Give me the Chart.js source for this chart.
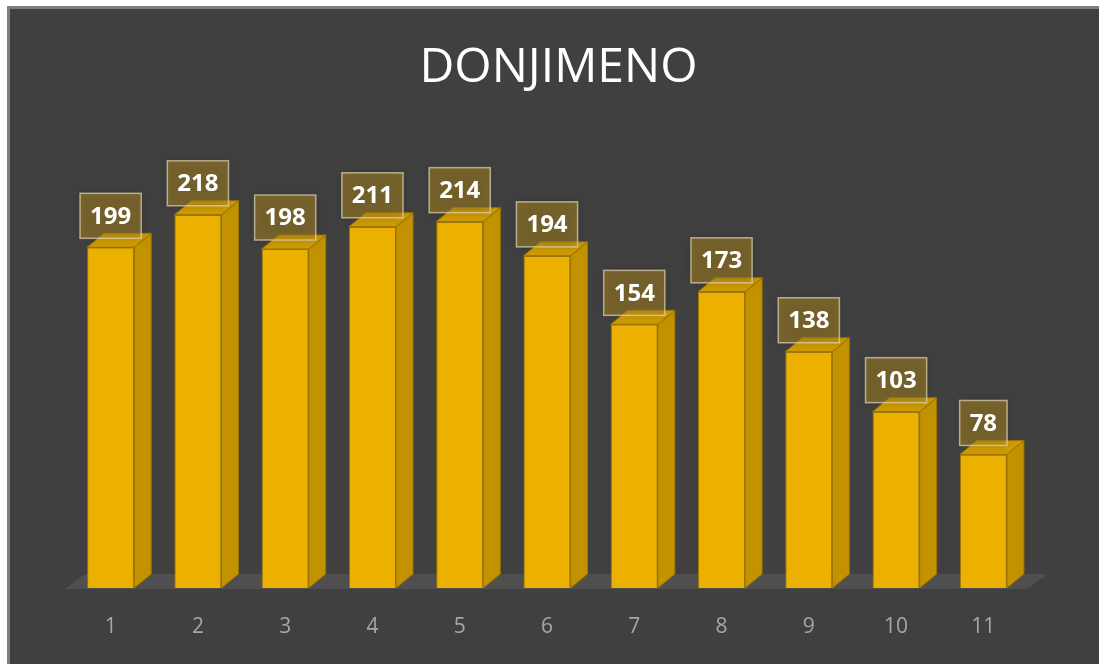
<!DOCTYPE html>
<html>
<head>
<meta charset="utf-8">
<script src="https://cdn.jsdelivr.net/npm/chart.js@4/dist/chart.umd.min.js"></script>
<style>
  html, body { margin: 0; padding: 0; background: #ffffff; overflow: hidden; }
  #frame {
    position: absolute; left: 7px; top: 6px; width: 1110px; height: 670px;
    box-sizing: border-box; background: #404040;
    border-left: 3px solid #7f7f7f; border-top: 3px solid #7f7f7f;
  }
  #wrap { position: relative; width: 1089px; height: 655px; }
</style>
</head>
<body>
<div id="frame"><div id="wrap"><canvas id="myChart"></canvas></div></div>
<script>
const chartTitle = "DONJIMENO";
const categories = ["1", "2", "3", "4", "5", "6", "7", "8", "9", "10", "11"];
const values = [199, 218, 198, 211, 214, 194, 154, 173, 138, 103, 78];

// depth of the fake 3d
const DX = 17, DY = 14;

const bar3d = {
  id: "bar3d",
  beforeDraw(chart) {
    const ctx = chart.ctx;
    ctx.save();
    ctx.font = '48px "Open Sans"';
    ctx.fillStyle = "#ffffff";
    ctx.textAlign = "center";
    ctx.textBaseline = "middle";
    ctx.fillText(chartTitle, chart.width / 2 + 4, 59);
    ctx.restore();
  },
  beforeDatasetsDraw(chart) {
    // floor
    const ctx = chart.ctx;
    const area = chart.chartArea;
    const base = chart.scales.y.getPixelForValue(0);
    ctx.save();
    ctx.fillStyle = "#4f4f4f";
    ctx.beginPath();
    ctx.moveTo(area.left - 2, base + 1);
    ctx.lineTo(area.right, base + 1);
    ctx.lineTo(area.right + 21, base - 14);
    ctx.lineTo(area.left + 18, base - 14);
    ctx.closePath();
    ctx.fill();
    ctx.restore();
  },
  afterDatasetsDraw(chart) {
    const ctx = chart.ctx;
    const meta = chart.getDatasetMeta(0);
    ctx.save();
    ctx.lineWidth = 1;
    ctx.strokeStyle = "#9c7500";
    meta.data.forEach((bar) => {
      const l = bar.x - bar.width / 2, r = bar.x + bar.width / 2;
      const t = bar.y, b = bar.base;
      // side
      ctx.fillStyle = "#c29200";
      ctx.beginPath();
      ctx.moveTo(r, t);
      ctx.lineTo(r + DX, t - DY);
      ctx.lineTo(r + DX, b - DY);
      ctx.lineTo(r, b);
      ctx.closePath();
      ctx.fill();
      ctx.stroke();
      // top
      ctx.fillStyle = "#cf9c00";
      ctx.beginPath();
      ctx.moveTo(l, t);
      ctx.lineTo(r, t);
      ctx.lineTo(r + DX, t - DY);
      ctx.lineTo(l + DX, t - DY);
      ctx.closePath();
      ctx.fill();
      ctx.stroke();
    });

    // data labels
    ctx.font = 'bold 24px "Open Sans"';
    ctx.textAlign = "center";
    ctx.textBaseline = "middle";
    meta.data.forEach((bar, i) => {
      const txt = String(values[i]);
      const w = ctx.measureText(txt).width + 20;
      const h = 45;
      const bx = bar.x - w / 2, by = bar.y - 9 - h;
      ctx.save();
      ctx.shadowColor = "rgba(0,0,0,0.35)";
      ctx.shadowBlur = 10;
      ctx.fillStyle = "rgba(175,138,30,0.5)";
      ctx.fillRect(bx, by, w, h);
      ctx.restore();
      ctx.strokeStyle = "rgba(225,212,180,0.7)";
      ctx.lineWidth = 1.5;
      ctx.strokeRect(bx, by, w, h);
      ctx.fillStyle = "#ffffff";
      ctx.fillText(txt, bar.x, by + h / 2 + 1);
    });
    ctx.restore();
  },
};

const ctx = document.getElementById("myChart").getContext("2d");
const myChart = new Chart(ctx, {
  type: "bar",
  data: {
    labels: categories,
    datasets: [
      {
        data: values,
        backgroundColor: "#ecb000",
        borderColor: "#9c7500",
        borderWidth: 1,
        categoryPercentage: 1,
        barPercentage: 0.54,
      },
    ],
  },
  options: {
    responsive: true,
    maintainAspectRatio: false,
    animation: false,
    layout: {
      padding: { left: 57, right: 72, top: 151, bottom: 0 },
    },
    scales: {
      x: {
        grid: { display: false, drawTicks: false },
        border: { display: false },
        ticks: {
          color: "#a6a6a6",
          padding: 26,
          font: { family: "Open Sans", size: 21 },
        },
        afterFit(scale) {
          scale.height = 76;
        },
      },
      y: {
        display: false,
        min: 0,
        max: 250,
      },
    },
    plugins: {
      legend: { display: false },
      tooltip: { enabled: false },
    },
  },
  plugins: [bar3d],
});
</script>
</body>
</html>
